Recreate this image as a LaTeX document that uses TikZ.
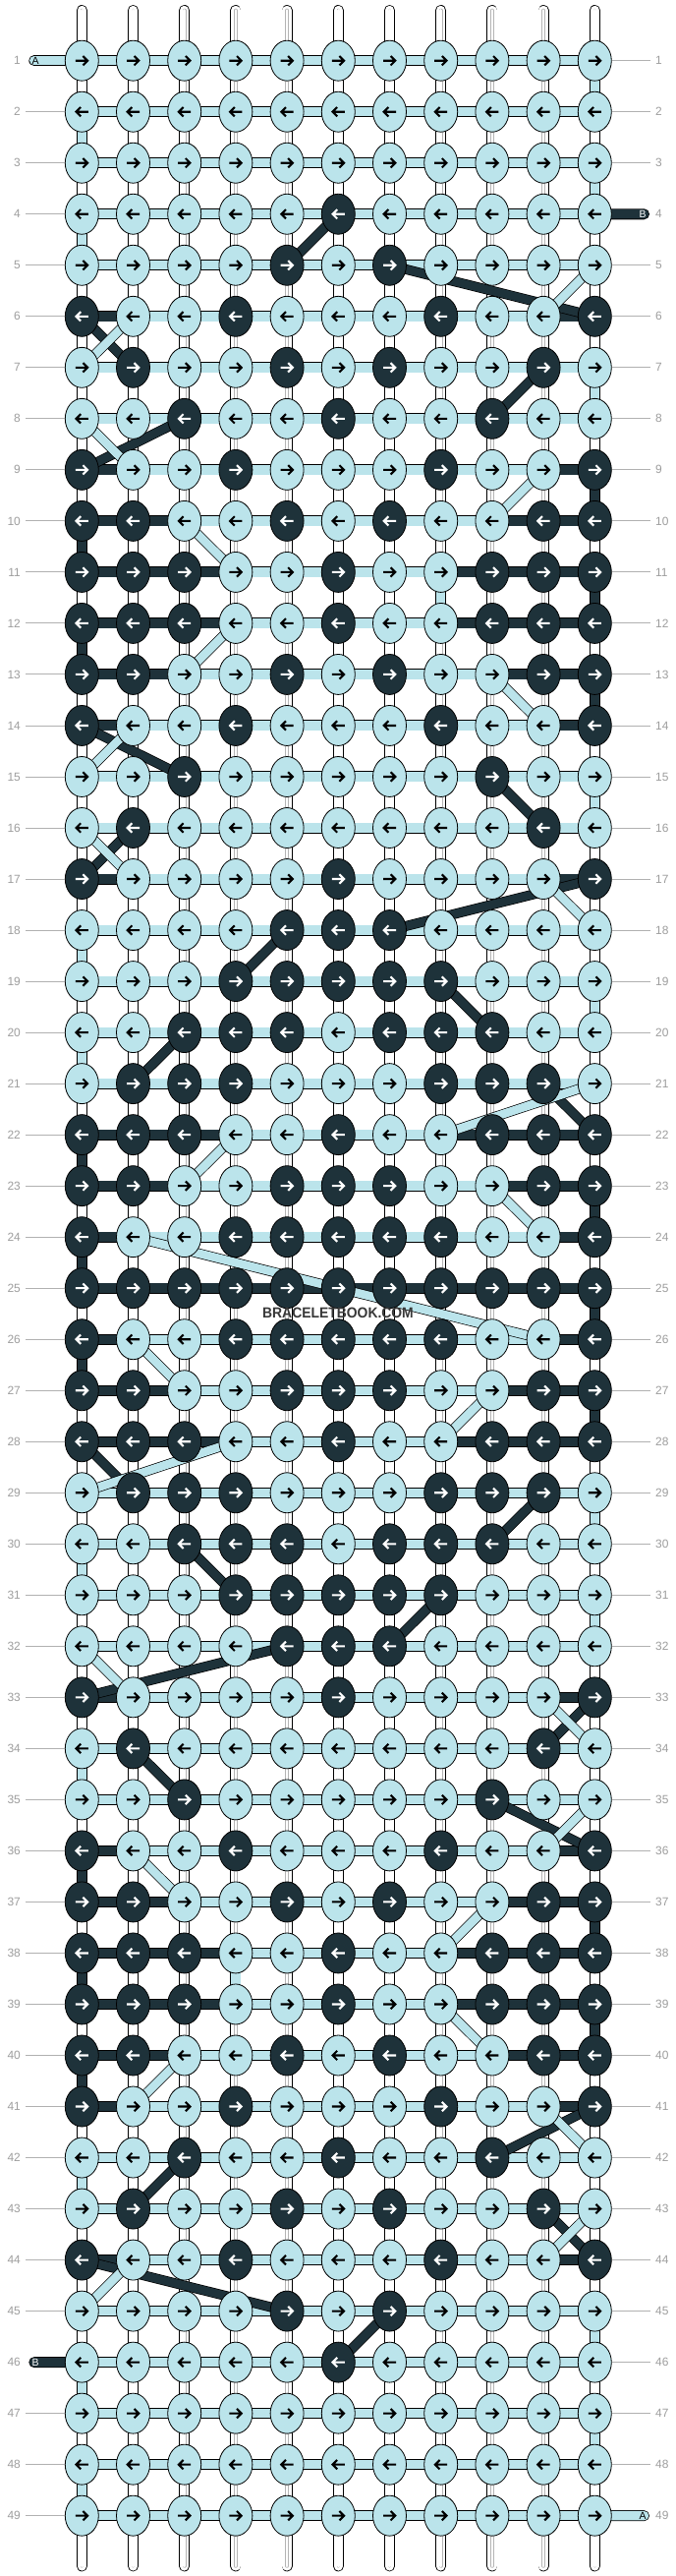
\documentclass[tikz,border=0pt]{standalone}
\usepackage{fontspec}
\setmainfont{Liberation Sans}
\usepackage{graphicx}
\usetikzlibrary{shapes.geometric}
\definecolor{lt}{HTML}{BBE4EB}
\definecolor{dk}{HTML}{1E323A}
\definecolor{lbl}{HTML}{9E9E9E}
\definecolor{wm}{HTML}{383838}
\definecolor{inl}{HTML}{B4B4B4}
\pgfdeclarelayer{bg}
\pgfdeclarelayer{mid}
\pgfsetlayers{bg,mid,main}
% dark knots (rows 1-24, mirrored to 26-49)
\foreach \rw/\cs in {4/{6},5/{5,7},6/{1,4,8,11},7/{2,5,7,10},8/{3,6,9},9/{1,4,8,11},10/{1,2,5,7,10,11},11/{1,2,3,6,9,10,11},12/{1,2,3,6,9,10,11},13/{1,2,5,7,10,11},14/{1,4,8,11},15/{3,9},16/{2,10},17/{1,6,11},18/{5,6,7},19/{4,5,6,7,8},20/{3,4,5,7,8,9},21/{2,3,4,8,9,10},22/{1,2,3,6,9,10,11},23/{1,2,5,6,7,10,11},24/{1,4,5,6,7,8,11}}{%
  \pgfmathtruncatemacro\rr{50-\rw}%
  \foreach \kk in \cs {%
    \expandafter\xdef\csname dk-\rw-\kk\endcsname{1}%
    \expandafter\xdef\csname dk-\rr-\kk\endcsname{1}%
  }%
}
\foreach \kk in {1,...,11}{\expandafter\xdef\csname dk-25-\kk\endcsname{1}}
\foreach \rw/\nn in {6/1,9/1,10/2,11/3,12/3,13/2,14/1,17/1,22/3,23/2,24/1,25/11,26/1,27/2,28/3,33/1,36/1,37/2,38/3,39/3,40/2,41/1,44/1}{%
  \expandafter\xdef\csname run-\rw\endcsname{\nn}}
\begin{document}
\begin{tikzpicture}[x=1bp,y=-1bp,
  knot/.style={ellipse,draw=black,line width=.8bp,minimum width=34bp,minimum height=41bp,inner sep=0pt},
  arr/.style={line width=2.1bp,line join=miter},
  band/.style={draw=black,line width=.8bp,double distance=9.4bp},
  diag/.style={draw=black,line width=.7bp,double distance=8.6bp},
  lab/.style={text=lbl,inner sep=0pt,font=\fontsize{12}{12}\selectfont},
  gline/.style={draw=lbl!80,line width=.9bp},
  inner/.style={draw=inl,line width=.5bp,double=white,double distance=2.6bp},
  taillab/.style={inner sep=0pt,font=\fontsize{10.5}{10.5}\selectfont}]
\useasboundingbox (0,0) rectangle (688,2620);
\begin{pgfonlayer}{bg}
\fill[white] (0,0) rectangle (688,2620);
\end{pgfonlayer}
% knots
\foreach \rw in {1,...,49}{
  \pgfmathsetmacro\yy{61.7+(\rw-1)*52.02}
  \foreach \kk in {1,...,11}{
    \pgfmathsetmacro\xx{83.3+(\kk-1)*52.2}
    \ifcsname dk-\rw-\kk\endcsname\def\kc{dk}\def\ac{white}\else\def\kc{lt}\def\ac{black}\fi
    \node[knot,fill=\kc] (k-\rw-\kk) at (\xx,\yy) {};
    \ifodd\rw\relax
      \draw[arr,draw=\ac] (\xx-6.5,\yy) -- (\xx+5.6,\yy) (\xx+1.1,\yy-4.7) -- (\xx+5.8,\yy) -- (\xx+1.1,\yy+4.7);
    \else
      \draw[arr,draw=\ac] (\xx+6.5,\yy) -- (\xx-5.6,\yy) (\xx-1.1,\yy-4.7) -- (\xx-5.8,\yy) -- (\xx-1.1,\yy+4.7);
    \fi
  }
  \node[lab,anchor=east] (ll-\rw) at (21,\yy) {\rw};
  \node[lab,anchor=west] (rl-\rw) at (667,\yy) {\rw};
  \def\dol{1}\ifnum\rw=1 \def\dol{0}\fi\ifnum\rw=46 \def\dol{0}\fi
  \def\dor{1}\ifnum\rw=4 \def\dor{0}\fi\ifnum\rw=49 \def\dor{0}\fi
  \ifnum\dol=1 \draw[gline] ([xshift=5bp]ll-\rw.east) -- (k-\rw-1.west);\fi
  \ifnum\dor=1 \draw[gline] (k-\rw-11.east) -- ([xshift=-5bp]rl-\rw.west);\fi
}
\begin{pgfonlayer}{bg}
  % stubs
  \foreach \kk in {1,...,11}{
    \pgfmathsetmacro\xx{83.3+(\kk-1)*52.2}
    \coordinate (t-\kk) at (\xx,10.5);
    \coordinate (b-\kk) at (\xx,2609.9);
    \draw[band,double=white,line cap=round] (t-\kk) -- (k-1-\kk.center);
    \draw[inner,line cap=round] (t-\kk) -- (k-1-\kk.center);
    \draw[band,double=white,line cap=round] (b-\kk) -- (k-49-\kk.center);
    \draw[inner,line cap=round] (b-\kk) -- (k-49-\kk.center);
  }
  % white verticals
  \foreach \rw [evaluate=\rw as \rn using int(\rw+1)] in {1,...,48}{
    \foreach \kk in {1,...,11}{
      \draw[band,double=white] (k-\rw-\kk.center) -- (k-\rn-\kk.center);
      \draw[inner] (k-\rw-\kk.center) -- (k-\rn-\kk.center);
    }
  }
  % coloured verticals
  \foreach \rw/\kk [evaluate=\rw as \rn using int(\rw+1)] in {1/11,2/1,3/11,4/1,7/11,11/8,15/11,18/1,19/11,20/1,29/11,30/1,31/11,34/1,38/4,42/1,45/11,46/1,47/11,48/1}{
    \draw[band,double=lt] (k-\rw-\kk.center) -- (k-\rn-\kk.center);}
  \foreach \rw/\kk [evaluate=\rw as \rn using int(\rw+1)] in {9/11,10/1,11/11,12/1,13/11,22/1,23/11,24/1,25/11,26/1,27/11,36/1,37/11,38/1,39/11,40/1}{
    \draw[band,double=dk] (k-\rw-\kk.center) -- (k-\rn-\kk.center);}
  % horizontal bands
  \foreach \rw in {1,...,49}{
    \ifcsname run-\rw\endcsname\edef\nrun{\csname run-\rw\endcsname}\else\def\nrun{0}\fi
    \foreach \jj [evaluate=\jj as \jn using int(\jj+1)] in {1,...,10}{
      \def\bc{lt}
      \ifnum\jj>\nrun\relax\else\def\bc{dk}\fi
      \ifnum\numexpr\jj+\nrun\relax>10 \def\bc{dk}\fi
      \draw[band,double=\bc] (k-\rw-\jj.center) -- (k-\rw-\jn.center);
    }
  }
  % tails
  \coordinate (ta1) at (34.8,61.7);
  \coordinate (tb4) at (655.5,217.76);
  \coordinate (tb46) at (34.8,2402.6);
  \coordinate (ta49) at (655.5,2558.66);
  \draw[band,double=lt,line cap=round] (k-1-1.center) -- (ta1);
  \draw[band,double=dk,line cap=round] (k-4-11.center) -- (tb4);
  \draw[band,double=dk,line cap=round] (k-46-1.center) -- (tb46);
  \draw[band,double=lt,line cap=round] (k-49-11.center) -- (ta49);
\end{pgfonlayer}
\begin{pgfonlayer}{mid}
  \foreach \ra/\ca/\rb/\cb in {4/6/5/5,5/7/6/11,6/1/7/2,7/10/8/9,8/3/9/1,14/1/15/3,15/9/16/10,16/2/17/1,17/11/18/7,18/5/19/4,19/8/20/9,20/3/21/2,21/10/22/11,28/1/29/2,29/10/30/9,30/3/31/4,31/8/32/7,32/5/33/1,33/11/34/10,34/2/35/3,35/9/36/11,41/11/42/9,42/3/43/2,43/10/44/11,44/1/45/5,45/7/46/6}{
    \draw[diag,double=dk] (k-\ra-\ca.center) -- (k-\rb-\cb.center);}
  \foreach \ra/\ca/\rb/\cb in {5/11/6/10,6/2/7/1,8/1/9/2,9/10/10/9,10/3/11/4,12/4/13/3,13/9/14/10,14/2/15/1,16/1/17/2,17/10/18/11,21/11/22/8,22/4/23/3,23/9/24/10,24/2/26/10,26/2/27/3,27/9/28/8,28/4/29/1,32/1/33/2,33/10/34/11,35/11/36/10,36/2/37/3,37/9/38/8,39/8/40/9,40/3/41/2,41/10/42/11,43/11/44/10,44/2/45/1}{
    \draw[diag,double=lt] (k-\ra-\ca.center) -- (k-\rb-\cb.center);}
\end{pgfonlayer}
\node[taillab,text=black] (la1) at (36,61.7) {A};
\node[taillab,text=white] (lb4) at (654,217.76) {B};
\node[taillab,text=white] (lb46) at (36,2402.6) {B};
\node[taillab,text=black] (la49) at (654,2558.66) {A};
\node[inner sep=0pt,text=wm,font=\bfseries\fontsize{15}{15}\selectfont] (wmk) at (344,1335.3) {\scalebox{0.93}[1]{BRACELETBOOK.COM}};
\end{tikzpicture}
\end{document}
